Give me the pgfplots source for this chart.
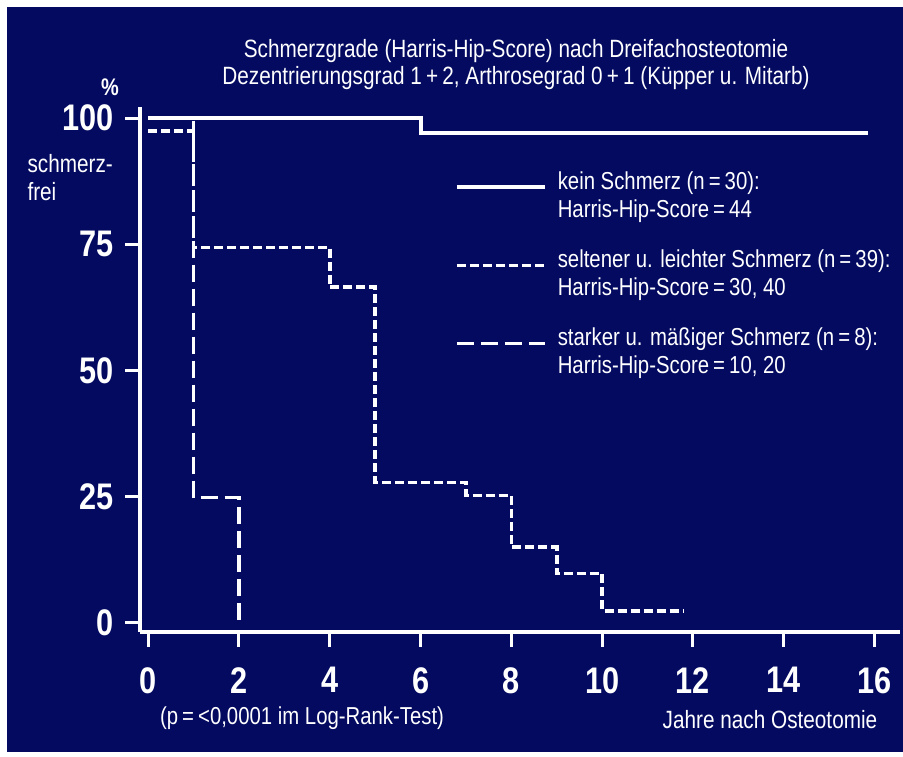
\documentclass[border=0pt]{standalone}
\usepackage{fontspec}
\setmainfont{Liberation Sans}[FakeStretch=0.83]
\usepackage{pgfplots}
\pgfplotsset{compat=1.18}
\definecolor{navybg}{RGB}{3,10,96}
\begin{document}
\begin{tikzpicture}
\useasboundingbox (0pt,0pt) rectangle (903pt,757pt);
\fill[white] (0pt,0pt) rectangle (903pt,757pt);
\fill[navybg] (7pt,5pt) rectangle (903pt,750pt);
\begin{axis}[
  at={(140pt,125pt)}, anchor=south west,
  scale only axis, width=760pt, height=525pt,
  xmin=-0.18, xmax=16.56, ymin=-1.8, ymax=102.2,
  axis lines=left,
  axis line style={-, white, line width=3.5pt},
  xtick={0,2,4,6,8,10,12,14,16},
  xticklabels={0,2,4,6,8,10,12,14,16},
  ytick={0,25,50,75,100},
  yticklabels={0,25,50,75,100},
  tick align=outside,
  major tick length=15pt,
  tick style={white, line width=3pt},
  tick label style={font=\fontsize{37}{40}\selectfont\bfseries, text=white},
  xticklabel style={yshift=-17pt},
  yticklabel style={xshift=-8pt},
  clip=false,
  legend style={at={(axis description cs:0.41,0.885)}, anchor=north west,
    draw=none, fill=none, text=white,
    font=\fontsize{24.5}{28}\selectfont,
    nodes={align=left},
    row sep=27pt, column sep=9pt},
  legend cell align=left,
  legend image code/.code={\draw[#1] (0pt,8pt) -- (88pt,8pt);},
]
\addplot[const plot, white, line width=4pt] coordinates {(0,100) (6,97) (15.85,97)};
\addlegendentry{kein Schmerz (n\,=\,30):\\Harris-Hip-Score\,=\,44}
\addplot[const plot, white, line width=3.5pt, dash pattern=on 9pt off 4pt] coordinates {(0,97.4) (1,74.4) (4,66.5) (5,27.8) (7,25.2) (8,15) (9,9.8) (10,2.4) (11.78,2.4)};
\addlegendentry{seltener u. leichter Schmerz (n\,=\,39):\\Harris-Hip-Score\,=\,30, 40}
\addplot[const plot, white, line width=3.5pt, dash pattern=on 17pt off 7pt] coordinates {(0,100) (1,24.8) (2,-0.4)};
\addlegendentry{starker u. mäßiger Schmerz (n\,=\,8):\\Harris-Hip-Score\,=\,10, 20}
\end{axis}
\node[text=white, font=\fontsize{25}{27}\selectfont, align=center] at (516pt,692pt) {Schmerzgrade (Harris-Hip-Score) nach Dreifachosteotomie\\Dezentrierungsgrad 1\,+\,2, Arthrosegrad 0\,+\,1 (Küpper u. Mitarb)};
\node[text=white, font=\fontsize{24}{24}\selectfont\bfseries] at (110pt,670pt) {\%};
\node[text=white, font=\fontsize{25}{28}\selectfont, align=left, anchor=west] at (24pt,579pt) {schmerz-\\frei};
\node[text=white, font=\fontsize{24.5}{26}\selectfont] at (302pt,39pt) {(p\,=\,<0,0001 im Log-Rank-Test)};
\node[text=white, font=\fontsize{25}{26}\selectfont] at (770pt,37pt) {Jahre nach Osteotomie};
\end{tikzpicture}
\end{document}
